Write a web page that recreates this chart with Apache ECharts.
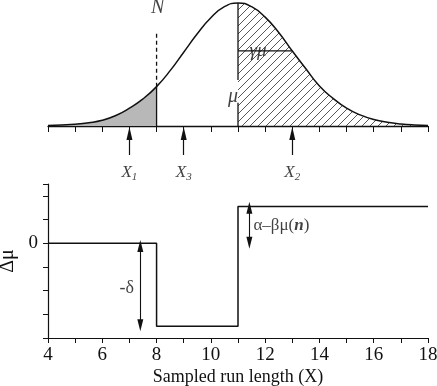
<!DOCTYPE html>
<html>
<head>
<meta charset="utf-8">
<script src="https://cdn.jsdelivr.net/npm/echarts@6/dist/echarts.min.js"></script>
<style>
  html, body { margin: 0; padding: 0; background: #fff; }
  #chart { width: 437px; height: 386px; }
</style>
</head>
<body>
<div id="chart"></div>
<script>
// top panel: distribution of run length (heights)
var curveX = [4, 4.5, 5, 5.5, 6, 6.5, 7, 7.5, 8, 8.5, 9, 9.5, 10, 10.5, 11,
              11.5, 12, 12.5, 13, 13.5, 14, 14.5, 15, 15.5, 16, 16.5, 17, 17.5, 18];
var curveY = [0.004, 0.008, 0.014, 0.026, 0.046, 0.085, 0.145, 0.22, 0.32, 0.45, 0.60, 0.75, 0.88, 0.97, 1.0,
              0.97, 0.885, 0.76, 0.61, 0.465, 0.325, 0.225, 0.145, 0.09, 0.053, 0.03, 0.016, 0.008, 0.004];
var cutN = 8;        // N
var meanX = 11;      // mu
var spreadX = 13;    // mu + gamma*mu
var sampleX = [7, 9, 13];
var sampleSub = ['1', '3', '2'];

// bottom panel: step change of delta mu
var stepX = [4, 8, 8, 11, 11, 18];
var stepY = [0, 0, -3.5, -3.5, 1.55, 1.55];
var xTickLabels = [4, 6, 8, 10, 12, 14, 16, 18];

var serif = 'Liberation Serif';
var ink = '#111';

function heightAt(x) {
  return curveY[curveX.indexOf(x)];
}

var curve = curveX.map(function (x, i) { return [x, curveY[i]]; });
var grayPart = curve.filter(function (p) { return p[0] <= cutN; });
var hatchPart = curve.filter(function (p) { return p[0] >= meanX; });

// diagonal hatching
var hatch = document.createElement('canvas');
hatch.width = 8; hatch.height = 8;
var hc = hatch.getContext('2d');
hc.strokeStyle = '#444';
hc.lineWidth = 0.9;
hc.beginPath();
hc.moveTo(0, 8); hc.lineTo(8, 0);
hc.moveTo(-1, 1); hc.lineTo(1, -1);
hc.moveTo(7, 9); hc.lineTo(9, 7);
hc.stroke();

function seg(points, dashed, idx) {
  return {
    type: 'line', xAxisIndex: idx, yAxisIndex: idx, data: points,
    symbol: 'none', silent: true, clip: false,
    lineStyle: { color: ink, width: 1.3, type: dashed ? [4, 3] : 'solid' }
  };
}

function textAt(x, y, text, idx, style) {
  return {
    type: 'scatter', xAxisIndex: idx, yAxisIndex: idx, data: [[x, y]],
    symbolSize: 1, itemStyle: { color: 'rgba(0,0,0,0)' }, silent: true, clip: false,
    label: Object.assign({ show: true, position: 'inside', formatter: text,
      fontFamily: serif, fontSize: 18, color: ink, textBorderWidth: 0 }, style || {})
  };
}

var nTop = heightAt(cutN);
var gammaY = heightAt(spreadX);

var series = [
  {
    type: 'line', xAxisIndex: 0, yAxisIndex: 0, data: grayPart, smooth: true,
    symbol: 'none', silent: true, lineStyle: { width: 0 },
    areaStyle: { color: '#b8b8b8', opacity: 1 }
  },
  {
    type: 'line', xAxisIndex: 0, yAxisIndex: 0, data: hatchPart, smooth: true,
    symbol: 'none', silent: true, lineStyle: { width: 0 },
    areaStyle: { color: { image: hatch, repeat: 'repeat' }, opacity: 1 }
  },
  {
    type: 'line', xAxisIndex: 0, yAxisIndex: 0, data: curve, smooth: true,
    symbol: 'none', silent: true, clip: false,
    lineStyle: { color: ink, width: 1.5 }
  },
  seg([[cutN, 0], [cutN, nTop]], false, 0),
  seg([[cutN, nTop], [cutN, 0.76]], true, 0),
  seg([[meanX, 1], [meanX, 0.375]], false, 0),
  seg([[meanX, 0.19], [meanX, 0]], false, 0),
  seg([[meanX, gammaY], [spreadX, gammaY]], false, 0),
  textAt(11.74, gammaY, 'γμ', 0, { fontStyle: 'italic', fontSize: 19, backgroundColor: '#fff', padding: [0, 2] }),
  textAt(10.82, 0.236, 'μ', 0, { fontStyle: 'italic', fontSize: 20 }),
  textAt(8.04, 0.965, 'N', 0, { fontStyle: 'italic', fontSize: 20 }),
  {
    type: 'line', xAxisIndex: 0, yAxisIndex: 0, data: [], silent: true,
    markLine: {
      silent: true, animation: false,
      symbol: ['none', 'triangle'], symbolSize: [6, 13],
      label: { show: false },
      lineStyle: { color: ink, width: 1.2, type: 'solid' },
      data: sampleX.map(function (x) {
        return [{ coord: [x, -0.236] }, { coord: [x, -0.06] }];
      })
    }
  },
  {
    type: 'line', xAxisIndex: 1, yAxisIndex: 1, data: stepX.map(function (x, i) { return [x, stepY[i]]; }),
    symbol: 'none', silent: true, clip: false,
    lineStyle: { color: ink, width: 1.5 },
    markLine: {
      silent: true, animation: false,
      symbol: ['triangle', 'triangle'], symbolSize: [6, 12],
      label: { show: false },
      lineStyle: { color: ink, width: 1.1, type: 'solid' },
      data: [
        [{ coord: [7.4, -0.12] }, { coord: [7.4, -3.46] }],
        [{ coord: [11.42, 1.5] }, { coord: [11.42, 0.02] }]
      ]
    }
  },
  textAt(6.9, -1.89, '-δ', 1, { fontSize: 18 }),
  textAt(11.55, 0.73, '{a|α–βμ(}{n|n}{a|)}', 1, {
    position: 'right', distance: 0,
    rich: { a: { fontFamily: serif, fontSize: 17, color: ink },
            n: { fontFamily: serif, fontSize: 17, color: ink, fontStyle: 'italic', fontWeight: 'bold' } }
  })
];

sampleX.forEach(function (x, i) {
  series.push(textAt(x, -0.38, '{x|X}{s|' + sampleSub[i] + '}', 0, {
    rich: {
      x: { fontFamily: serif, fontStyle: 'italic', fontSize: 17, color: ink },
      s: { fontFamily: serif, fontStyle: 'italic', fontSize: 11, color: ink, verticalAlign: 'bottom', padding: [8, 0, 0, 0] }
    }
  }));
});

var chart = echarts.init(document.getElementById('chart'));
chart.setOption({
  animation: false,
  backgroundColor: '#fff',
  grid: [
    { left: 48, right: 9, top: 3, height: 184.5, outerBoundsMode: 'none', containLabel: false },
    { left: 48, right: 9, top: 184, bottom: 48, outerBoundsMode: 'none', containLabel: false }
  ],
  xAxis: [
    {
      gridIndex: 0, type: 'value', min: 4, max: 18, interval: 1,
      axisLine: { onZero: true, lineStyle: { color: ink, width: 1.3 } },
      axisTick: { show: true, length: 6, lineStyle: { color: ink } },
      axisLabel: { show: false }, splitLine: { show: false }
    },
    {
      gridIndex: 1, type: 'value', min: 4, max: 18, interval: 1,
      name: 'Sampled run length (X)', nameLocation: 'middle', nameGap: 30,
      nameTextStyle: { fontFamily: serif, fontSize: 18, color: ink },
      axisLine: { onZero: false, lineStyle: { color: ink, width: 1.2 } },
      axisTick: { show: true, length: 5, lineStyle: { color: ink } },
      axisLabel: {
        fontFamily: serif, fontSize: 19, color: ink, margin: 8,
        formatter: function (v) { return xTickLabels.indexOf(v) >= 0 ? String(v) : ''; }
      },
      splitLine: { show: false }
    }
  ],
  yAxis: [
    { gridIndex: 0, type: 'value', min: -0.5, max: 1, show: false },
    {
      gridIndex: 1, type: 'value', min: -4, max: 2.5, interval: 1,
      name: 'Δμ', nameLocation: 'middle', nameGap: 24, nameRotate: 90,
      nameTextStyle: { fontFamily: serif, fontSize: 20, color: ink },
      axisLine: { onZero: false, lineStyle: { color: ink, width: 1.2 } },
      axisTick: { show: true, length: 5, lineStyle: { color: ink } },
      axisLabel: {
        fontFamily: serif, fontSize: 19, color: ink, margin: 10,
        formatter: function (v) { return v === 0 ? '0' : ''; }
      },
      splitLine: { show: false }
    }
  ],
  series: series
});
</script>
</body>
</html>
